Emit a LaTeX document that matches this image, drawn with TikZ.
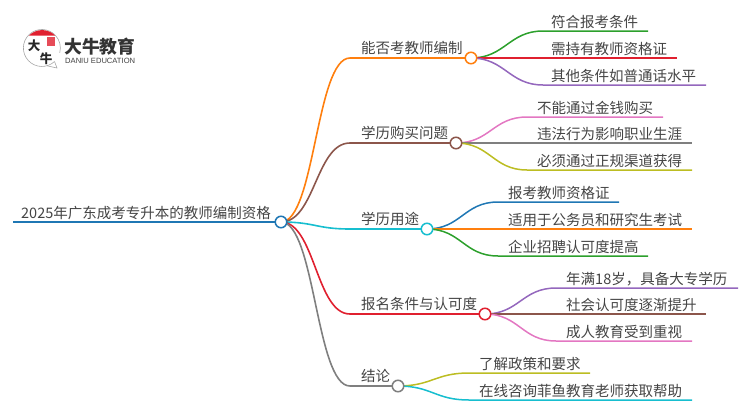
\documentclass[tikz,border=0pt]{standalone}
\usepackage{fontspec}
\setmainfont{Noto Sans CJK SC}
\newfontfamily\latinfont{Liberation Sans}
\usetikzlibrary{backgrounds}
\definecolor{cOrange}{HTML}{FF7F0E}
\definecolor{cBrown}{HTML}{8C564B}
\definecolor{cCyan}{HTML}{17BECF}
\definecolor{cRed}{HTML}{E0202F}
\definecolor{cGray}{HTML}{7F7F7F}
\definecolor{cGreen}{HTML}{2CA02C}
\definecolor{cPurple}{HTML}{9467BD}
\definecolor{cPink}{HTML}{E377C2}
\definecolor{cOlive}{HTML}{BCBD22}
\definecolor{cBlue}{HTML}{1F77B4}
\definecolor{cText}{HTML}{444444}
\tikzset{
  x=1pt,y=-1pt,
  label/.style={anchor=base west,inner sep=0pt,text=cText,font=\fontsize{14.5}{16}\selectfont},
  hub/.style={circle,draw=#1,fill=white,line width=1.5pt,minimum size=11.5pt,inner sep=0pt},
  wire/.style={draw=#1,line width=1.5pt},
  trunk/.style={draw=#1,line width=1.6pt},
}
\newcommand{\mainwire}[4]{\draw[trunk=#1] (root.center) .. controls +(34,0) and ([xshift=-34pt]#2) .. (#2) -- (#3.center);}
\newcommand{\leafwire}[5]{\draw[wire=#1] (#2.center) .. controls +(#5,0) and ([xshift=-#5 pt]#3) .. (#3) -- (#4);}
\begin{document}
\begin{tikzpicture}
\useasboundingbox (0,0) rectangle (750,410);
% logo
\draw[black!35,line width=0.6pt] (54.5,61.5) arc[start angle=47,end angle=375,radius=18.5] ;
\draw[black!35,line width=0.6pt] (54.5,61.5) -- (57,68) -- (47,65.8);
\fill[cRed] (29,35.5) arc[start angle=225,end angle=315,radius=18.5] -- cycle;
\fill[cRed!80] (47,37) rectangle (55,46);
\node[inner sep=0pt,font=\fontsize{12.5}{13}\selectfont\bfseries,text=black!85] (logoA) at (34,45.5) {大};
\node[inner sep=0pt,font=\fontsize{12.5}{13}\selectfont\bfseries,text=black!85] (logoB) at (46,58.5) {牛};
\node[anchor=base west,inner sep=0pt,font=\fontsize{17.8}{18}\selectfont\bfseries,text=black!80] (brand) at (64,53.5) {大牛教育};
\node[anchor=base west,inner sep=0pt,font=\latinfont\fontsize{7.6}{8}\selectfont,text=black!75] (brandEn) at (65,63) {DANIU EDUCATION};
% hubs
\node[hub=cBlue] (root) at (281,222) {};
\node[hub=cOrange] (h1) at (471,58) {};
\node[hub=cBrown] (h2) at (456,143) {};
\node[hub=cCyan] (h3) at (427,229) {};
\node[hub=cRed] (h4) at (485,314) {};
\node[hub=cGray] (h5) at (398,386) {};
% free ends
\coordinate (rootStart) at (13,222);
\coordinate (k1) at (350,58);
\coordinate (k2) at (350,143);
\coordinate (k3) at (350,229);
\coordinate (k4) at (350,314);
\coordinate (k5) at (350,386);
\coordinate (a1) at (543,31);   \coordinate (a1e) at (648,31);
\coordinate (a2) at (543,58);   \coordinate (a2e) at (677,58);
\coordinate (a3) at (543,85);   \coordinate (a3e) at (706,85);
\coordinate (b1) at (527,117);  \coordinate (b1e) at (663,117);
\coordinate (b2) at (527,143);  \coordinate (b2e) at (692,143);
\coordinate (b3) at (527,170);  \coordinate (b3e) at (692,170);
\coordinate (c1) at (498,202);  \coordinate (c1e) at (619,202);
\coordinate (c2) at (498,229);  \coordinate (c2e) at (692,229);
\coordinate (c3) at (498,256);  \coordinate (c3e) at (648,256);
\coordinate (d1) at (556,288);  \coordinate (d1e) at (738,288);
\coordinate (d2) at (556,314);  \coordinate (d2e) at (706,314);
\coordinate (d3) at (556,341);  \coordinate (d3e) at (692,341);
\coordinate (e1) at (469,373);  \coordinate (e1e) at (590,373);
\coordinate (e2) at (469,400);  \coordinate (e2e) at (692,400);
% labels
\node[label] (t0) at (21,218) {2025年广东成考专升本的教师编制资格};
\node[label] (t1) at (361,53) {能否考教师编制};
\node[label] (t2) at (361,138) {学历购买问题};
\node[label] (t3) at (361,224) {学历用途};
\node[label] (t4) at (361,309) {报名条件与认可度};
\node[label] (t5) at (361,381) {结论};
\node[label] (ta1) at (551,27) {符合报考条件};
\node[label] (ta2) at (551,54) {需持有教师资格证};
\node[label] (ta3) at (551,81) {其他条件如普通话水平};
\node[label] (tb1) at (537,113) {不能通过金钱购买};
\node[label] (tb2) at (537,139) {违法行为影响职业生涯};
\node[label] (tb3) at (537,166) {必须通过正规渠道获得};
\node[label] (tc1) at (508,198) {报考教师资格证};
\node[label] (tc2) at (508,225) {适用于公务员和研究生考试};
\node[label] (tc3) at (508,252) {企业招聘认可度提高};
\node[label] (td1) at (566,284) {年满18岁，具备大专学历};
\node[label] (td2) at (566,310) {社会认可度逐渐提升};
\node[label] (td3) at (566,337) {成人教育受到重视};
\node[label] (te1) at (479,369) {了解政策和要求};
\node[label] (te2) at (479,396) {在线咨询菲鱼教育老师获取帮助};
\begin{scope}[on background layer]
\draw[trunk=cBlue] (rootStart) -- (root.center);
\mainwire{cOrange}{k1}{h1}{}
\mainwire{cBrown}{k2}{h2}{}
\mainwire{cCyan}{k3}{h3}{}
\mainwire{cRed}{k4}{h4}{}
\mainwire{cGray}{k5}{h5}{}
\leafwire{cGreen}{h1}{a1}{a1e}{34}
\leafwire{cRed}{h1}{a2}{a2e}{34}
\leafwire{cPurple}{h1}{a3}{a3e}{34}
\leafwire{cPink}{h2}{b1}{b1e}{34}
\leafwire{cGray}{h2}{b2}{b2e}{34}
\leafwire{cOlive}{h2}{b3}{b3e}{34}
\leafwire{cBlue}{h3}{c1}{c1e}{34}
\leafwire{cOrange}{h3}{c2}{c2e}{34}
\leafwire{cGreen}{h3}{c3}{c3e}{34}
\leafwire{cPurple}{h4}{d1}{d1e}{34}
\leafwire{cBrown}{h4}{d2}{d2e}{34}
\leafwire{cPink}{h4}{d3}{d3e}{34}
\leafwire{cOlive}{h5}{e1}{e1e}{34}
\leafwire{cCyan}{h5}{e2}{e2e}{34}
\end{scope}
\end{tikzpicture}
\end{document}
